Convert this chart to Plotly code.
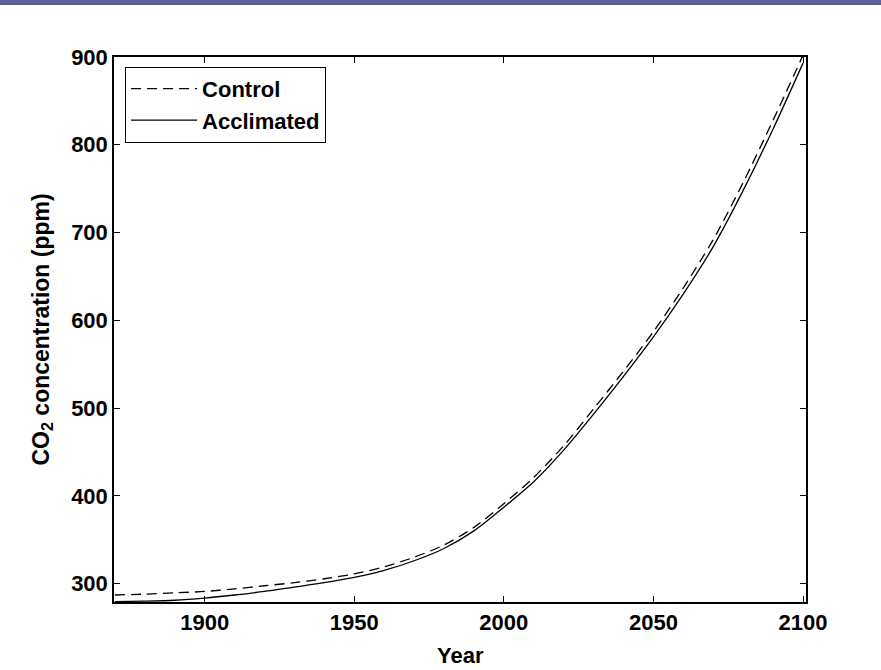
import plotly.graph_objects as go

years = [1870, 1880, 1890, 1900, 1910, 1920, 1930, 1940, 1950, 1960, 1970, 1980,
         1990, 2000, 2010, 2020, 2030, 2040, 2050, 2060, 2070, 2080, 2090, 2100]
control = [287, 288, 289.5, 291, 294, 297.5, 301, 305.5, 311, 319, 330, 344,
           364, 391, 421, 457, 499, 542, 587, 637, 692, 757, 828, 902]
acclimated = [279.5, 280, 281, 283.5, 287, 291, 296, 301, 307, 315, 326, 340,
              360, 387, 416, 452, 493, 536, 581, 630, 684, 748, 818, 893]

x_ticks = [1900, 1950, 2000, 2050, 2100]
y_ticks = [300, 400, 500, 600, 700, 800, 900]

FONT = "Liberation Sans"
FS = 22

fig = go.Figure()
fig.add_trace(go.Scatter(x=years, y=control, mode="lines", name="<b>Control</b>",
                         line=dict(color="black", width=1.3, dash="10px,6px",
                                   shape="spline", smoothing=0.8)))
fig.add_trace(go.Scatter(x=years, y=acclimated, mode="lines", name="<b>Acclimated</b>",
                         line=dict(color="black", width=1.3,
                                   shape="spline", smoothing=0.8)))

W, H = 881, 670
ml, mr, mt, mb = 114, 75, 57, 68
pw, ph = W - ml - mr, H - mt - mb

# purple header band at the top of the page
fig.add_shape(type="rect", xref="paper", yref="paper",
              x0=-ml / pw, x1=(W - ml) / pw,
              y0=1 + (mt - 5) / ph, y1=1 + mt / ph,
              fillcolor="#5d5d96", line=dict(width=0), layer="above")

axis_common = dict(showline=True, linecolor="black", linewidth=1.5, mirror="ticks",
                   ticks="inside", ticklen=6, tickcolor="black", tickwidth=1.2,
                   showgrid=False, zeroline=False, automargin=False,
                   tickfont=dict(family=FONT, size=FS, color="black"))

fig.update_layout(
    width=W, height=H,
    margin=dict(l=ml, r=mr, t=mt, b=mb, autoexpand=False),
    paper_bgcolor="white", plot_bgcolor="white",
    showlegend=True,
    legend=dict(x=0.016, y=0.982, xanchor="left", yanchor="top",
                bordercolor="black", borderwidth=1, bgcolor="white",
                font=dict(family=FONT, size=FS, color="black"),
                tracegroupgap=0, itemwidth=66),
    xaxis=dict(range=[1869.7, 2101], tickvals=x_ticks,
               ticktext=["<b>%d</b>" % v for v in x_ticks],
               **axis_common),
    yaxis=dict(range=[279, 900], tickvals=y_ticks,
               ticktext=["<b>%d</b>" % v for v in y_ticks],
               **axis_common),
    annotations=[
        dict(text="<b>Year</b>", xref="paper", yref="paper",
             x=0.5, y=-(655 - (H - mb)) / ph, xanchor="center", yanchor="middle",
             showarrow=False, font=dict(family=FONT, size=FS, color="black")),
        dict(text="<b>CO<sub>2</sub> concentration (ppm)</b>", xref="paper", yref="paper",
             x=(42 - ml) / pw, y=0.5, xanchor="center", yanchor="middle", textangle=-90,
             showarrow=False, font=dict(family=FONT, size=23, color="black")),
    ],
)

fig.write_html("out.html", config={"displayModeBar": False},
               post_script="document.body.style.margin='0';")
